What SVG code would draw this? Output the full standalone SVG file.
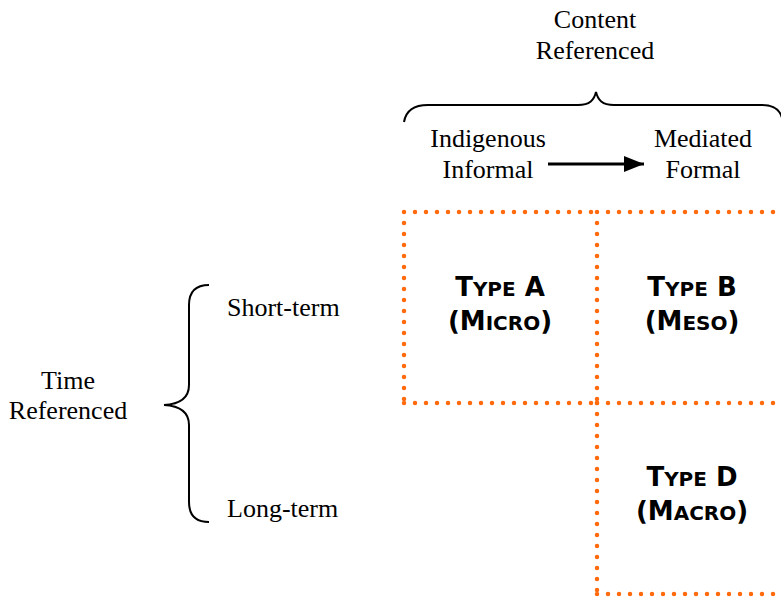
<svg xmlns="http://www.w3.org/2000/svg" width="781" height="597" viewBox="0 0 781 597">
<style>
.t{font-family:"Liberation Serif","Times New Roman",serif;font-size:26px;fill:#000}
.m{text-anchor:middle}
.b{font-family:"DejaVu Sans",Verdana,sans-serif;font-weight:bold;font-size:26px;text-anchor:middle;fill:#000}
.s{font-size:20px}
.box{fill:none;stroke:#FF6A0D;stroke-width:4.5;stroke-linecap:round;stroke-dasharray:0 11}
.br{fill:none;stroke:#000;stroke-width:2}
</style>
<defs>
<marker id="ah" viewBox="0 0 20 16" refX="20" refY="8" markerWidth="20" markerHeight="16" markerUnits="userSpaceOnUse" orient="auto">
<path d="M0,0 L20,8 L0,16 z" fill="#000"/>
</marker>
</defs>
<rect width="781" height="597" fill="#fff"/>
<g id="content-label">
<text class="t m" x="595" y="28">Content</text>
<text class="t m" x="595" y="59">Referenced</text>
</g>
<g id="top-brace"><path class="br" d="M404,122 C406,110 414,105 428,105 L578,105 C590,105 594,100 596,92 C598,100 602,105 614,105 L762,105 C774,105 780,110 782,118"/></g>
<g id="indigenous"><text class="t m" x="488" y="147">Indigenous</text><text class="t m" x="488" y="178">Informal</text></g>
<g id="mediated"><text class="t m" x="703" y="147">Mediated</text><text class="t m" x="703" y="178">Formal</text></g>
<g id="time-label"><text class="t m" x="68" y="389">Time</text><text class="t m" x="68" y="419">Referenced</text></g>
<g id="left-brace"><path class="br" d="M209,285 C196,285 189,292 189,305 L189,385 C189,397 182,404 164,405 C182,406 189,413 189,425 L189,502 C189,515 196,522 209,522"/></g>
<g id="short-term"><text class="t" x="227" y="316">Short-term</text></g>
<g id="long-term"><text class="t" x="227" y="517">Long-term</text></g>
<g id="connectors"><line x1="548" y1="164" x2="644" y2="164" stroke="#000" stroke-width="3" marker-end="url(#ah)"/></g>
<g id="type-a"><path class="box" d="M404,212 L597,212 M404,212 L404,403 M404,403 L597,403"/><text class="b" x="500" y="296">T<tspan class="s">YPE</tspan> A</text><text class="b" x="500" y="330">(M<tspan class="s">ICRO</tspan>)</text></g>
<g id="type-b"><path class="box" d="M597,212 L790,212 M597,212 L597,403 M597,403 L790,403"/><text class="b" x="692" y="296">T<tspan class="s">YPE</tspan> B</text><text class="b" x="692" y="330">(M<tspan class="s">ESO</tspan>)</text></g>
<g id="type-d"><path class="box" d="M597,403 L597,594 M597,594 L790,594"/><text class="b" x="692" y="486">T<tspan class="s">YPE</tspan> D</text><text class="b" x="692" y="520">(M<tspan class="s">ACRO</tspan>)</text></g>
</svg>
